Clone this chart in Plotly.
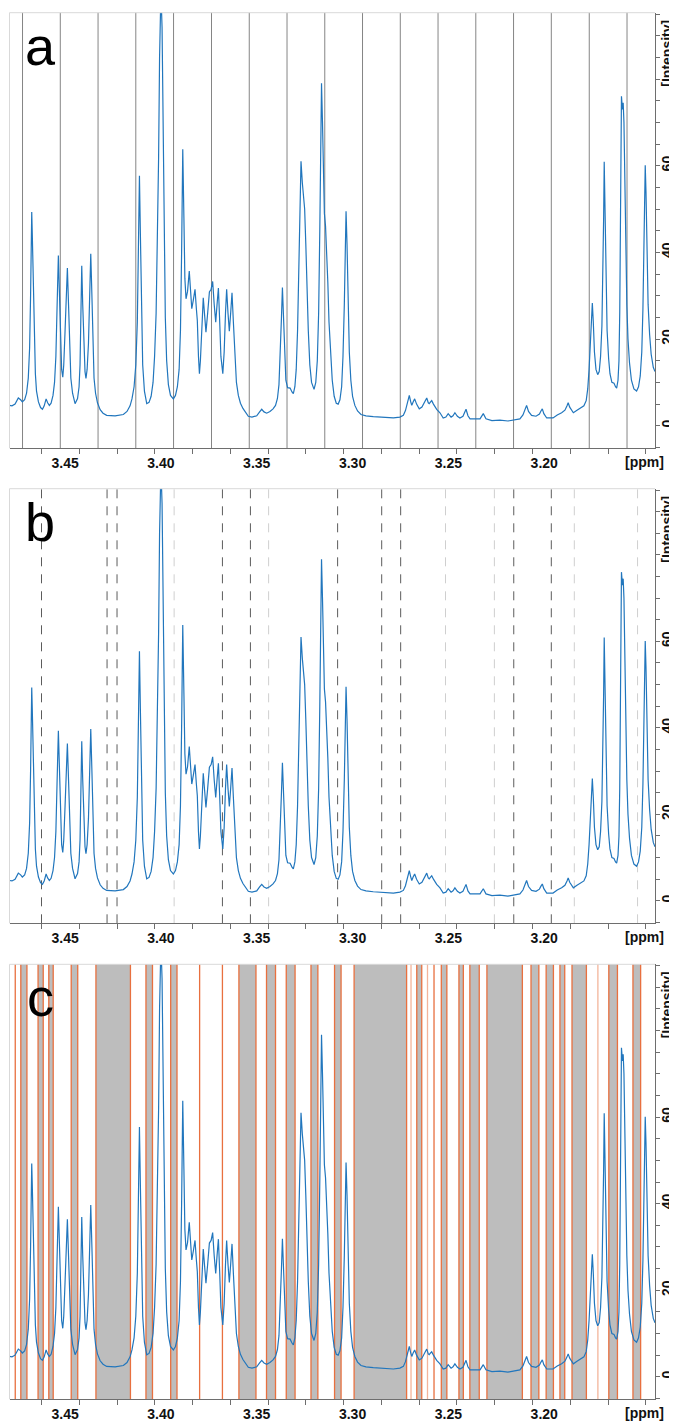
import plotly.graph_objects as go

# ---------------- data ----------------
ppm = [3.4790, 3.4777, 3.4761, 3.4744, 3.4732, 3.4723, 3.4711, 3.4701, 3.4692, 3.4685,
       3.4680, 3.4676, 3.4674, 3.4671, 3.4666, 3.4661, 3.4655, 3.4649, 3.4639, 3.4628,
       3.4618, 3.4609, 3.4599, 3.4591, 3.4582, 3.4573, 3.4563, 3.4555, 3.4548, 3.4542,
       3.4535, 3.4529, 3.4524, 3.4518, 3.4512, 3.4507, 3.4500, 3.4493, 3.4488, 3.4482,
       3.4477, 3.4470, 3.4461, 3.4448, 3.4435, 3.4427, 3.4422, 3.4417, 3.4413, 3.4408,
       3.4402, 3.4396, 3.4391, 3.4385, 3.4378, 3.4372, 3.4366, 3.4360, 3.4354, 3.4349,
       3.4341, 3.4331, 3.4317, 3.4302, 3.4283, 3.4239, 3.4196, 3.4177, 3.4161, 3.4151,
       3.4140, 3.4131, 3.4123, 3.4117, 3.4112, 3.4107, 3.4102, 3.4095, 3.4086, 3.4074,
       3.4062, 3.4051, 3.4041, 3.4033, 3.4025, 3.4019, 3.4012, 3.4007, 3.4000, 3.3994,
       3.3988, 3.3983, 3.3977, 3.3970, 3.3961, 3.3950, 3.3935, 3.3924, 3.3914, 3.3905,
       3.3898, 3.3892, 3.3886, 3.3880, 3.3875, 3.3869, 3.3861, 3.3852, 3.3845, 3.3839,
       3.3831, 3.3822, 3.3815, 3.3810, 3.3804, 3.3799, 3.3794, 3.3786, 3.3779, 3.3771,
       3.3765, 3.3756, 3.3747, 3.3738, 3.3730, 3.3722, 3.3714, 3.3707, 3.3700, 3.3694,
       3.3687, 3.3677, 3.3670, 3.3663, 3.3657, 3.3650, 3.3643, 3.3636, 3.3629, 3.3622,
       3.3615, 3.3606, 3.3596, 3.3585, 3.3572, 3.3558, 3.3544, 3.3525, 3.3500, 3.3485,
       3.3474, 3.3462, 3.3448, 3.3431, 3.3415, 3.3402, 3.3392, 3.3384, 3.3377, 3.3371,
       3.3366, 3.3361, 3.3355, 3.3348, 3.3339, 3.3326, 3.3316, 3.3309, 3.3301, 3.3294,
       3.3287, 3.3280, 3.3274, 3.3269, 3.3262, 3.3256, 3.3250, 3.3244, 3.3238, 3.3231,
       3.3223, 3.3214, 3.3201, 3.3192, 3.3184, 3.3177, 3.3171, 3.3166, 3.3162, 3.3157,
       3.3152, 3.3147, 3.3141, 3.3135, 3.3129, 3.3123, 3.3115, 3.3106, 3.3096, 3.3085,
       3.3075, 3.3066, 3.3057, 3.3050, 3.3043, 3.3038, 3.3034, 3.3029, 3.3024, 3.3017,
       3.3009, 3.3000, 3.2988, 3.2974, 3.2956, 3.2930, 3.2892, 3.2840, 3.2787, 3.2753,
       3.2735, 3.2724, 3.2713, 3.2704, 3.2697, 3.2691, 3.2684, 3.2676, 3.2666, 3.2652,
       3.2638, 3.2623, 3.2613, 3.2605, 3.2600, 3.2593, 3.2587, 3.2578, 3.2561, 3.2544,
       3.2527, 3.2513, 3.2501, 3.2486, 3.2476, 3.2466, 3.2453, 3.2440, 3.2424, 3.2408,
       3.2398, 3.2387, 3.2356, 3.2335, 3.2318, 3.2304, 3.2273, 3.2231, 3.2189, 3.2153,
       3.2127, 3.2111, 3.2100, 3.2092, 3.2082, 3.2066, 3.2043, 3.2025, 3.2017, 3.2010,
       3.2002, 3.1987, 3.1954, 3.1932, 3.1909, 3.1892, 3.1881, 3.1875, 3.1867, 3.1848,
       3.1829, 3.1814, 3.1793, 3.1781, 3.1773, 3.1766, 3.1759, 3.1754, 3.1749, 3.1744,
       3.1738, 3.1730, 3.1721, 3.1713, 3.1706, 3.1699, 3.1694, 3.1690, 3.1687, 3.1683,
       3.1678, 3.1672, 3.1664, 3.1657, 3.1647, 3.1636, 3.1628, 3.1622, 3.1615, 3.1610,
       3.1606, 3.1603, 3.1600, 3.1597, 3.1592, 3.1588, 3.1584, 3.1580, 3.1575, 3.1569,
       3.1563, 3.1555, 3.1545, 3.1532, 3.1518, 3.1508, 3.1499, 3.1491, 3.1485, 3.1480,
       3.1476, 3.1473, 3.1469, 3.1464, 3.1458, 3.1450, 3.1442, 3.1431, 3.1422]

intensity = [4.7, 4.6, 5.0, 6.4, 6.0, 5.5, 6.0, 7.5, 11, 18,
             30, 42, 49.3, 44, 32, 20, 12, 8, 5.5, 4.2,
             3.8, 4.6, 6.2, 5.3, 4.7, 5.2, 7, 10, 16, 27,
             39.3, 30, 20, 13, 11.2, 14, 22, 32, 36.4, 28,
             18, 11, 7.5, 5.1, 6.3, 9, 14, 25, 36.9, 28,
             18, 12.5, 10.9, 13, 19, 30, 39.7, 30, 18, 11,
             7.5, 5.3, 3.7, 2.9, 2.4, 2.3, 2.6, 3.3, 4.6, 6.2,
             9, 14, 24, 40, 57.7, 44, 26, 14, 8, 5.1,
             5.4, 6.8, 10, 16, 26, 40, 62, 85, 100, 92,
             66, 42, 25, 15, 9.5, 7, 6.2, 7, 9, 13,
             22, 40, 63.8, 48, 34, 29.3, 31, 35.7, 30, 27,
             29, 31.5, 27, 24.3, 16, 12, 15, 23, 29.5, 25,
             21.6, 26, 30.9, 31.5, 33.3, 28, 23.9, 28, 31.8, 25,
             16, 12, 17, 26, 31.5, 26, 21.8, 26, 30.7, 24,
             16, 10, 7, 5.2, 4.0, 3.0, 2.2, 2.0, 2.3, 3.2,
             3.8, 3.2, 2.9, 3.3, 3.9, 4.7, 6.3, 9.5, 16, 25,
             31.9, 26, 16, 10.5, 8.8, 8.7, 7.8, 7.4, 9, 13,
             22, 38, 55, 61, 56, 53, 50, 42, 32, 22,
             14, 10, 8.4, 10, 15, 26, 45, 65, 79, 70,
             56, 49, 46, 41, 33, 24, 16, 10.5, 6.8, 5.2,
             5.0, 6, 9, 16, 28, 42, 49.5, 42, 28, 17,
             10.5, 6.8, 4.7, 3.4, 2.6, 2.3, 2.1, 2.0, 1.8, 2.0,
             2.4, 3.5, 5.5, 7.0, 5.6, 4.7, 5.5, 6.2, 5.0, 3.9,
             4.3, 5.6, 6.4, 5.3, 5.1, 5.5, 5.8, 5.0, 3.8, 3.0,
             1.8, 2.0, 2.8, 2.0, 2.3, 3.0, 2.2, 1.8, 2.2, 3.8,
             2.3, 1.6, 1.5, 1.6, 2.8, 1.6, 1.2, 1.3, 1.1, 1.3,
             1.6, 2.5, 3.8, 4.7, 3.3, 2.4, 2.2, 2.7, 3.4, 3.9,
             2.8, 1.8, 1.8, 2.5, 3.0, 3.6, 4.6, 5.3, 4.3, 3.0,
             3.6, 4.1, 4.6, 5.8, 8.5, 13, 20, 26, 28.3, 24,
             17, 13, 11.8, 12.5, 16, 23, 34, 48, 60.9, 50,
             33, 22, 15.5, 12, 10, 9.8, 9, 8.7, 10.5, 15,
             26, 45, 66, 76, 73, 74.5, 70, 55, 40, 28,
             20, 14.5, 10.5, 8.5, 8.0, 9, 11.5, 17, 27, 42,
             55, 60.1, 54, 40, 28, 21, 16.5, 13.5, 12.5]

# panel a: equidistant bin borders (ppm)
bins_a = [3.4722, 3.4525, 3.4328, 3.4131, 3.3934, 3.3736, 3.3539, 3.3342, 3.3145,
          3.2948, 3.2751, 3.2554, 3.2357, 3.2160, 3.1963, 3.1765, 3.1568]

# panel b: dashed borders (dark / light)
bins_b_dark = [3.4623, 3.4281, 3.4229, 3.3679, 3.3533, 3.3078, 3.2848, 3.2749, 3.2159, 3.1963]
bins_b_light = [3.3931, 3.3438, 3.2515, 3.2260, 3.1843, 3.1513]

# panel c: grey regions (start, end) and single orange borders
regions_c = [(3.4731, 3.4699), (3.4641, 3.4614), (3.4585, 3.4562), (3.4468, 3.4434),
             (3.4339, 3.4159), (3.4078, 3.4044), (3.3949, 3.3916), (3.3593, 3.3504),
             (3.3449, 3.3402), (3.3346, 3.3300), (3.3217, 3.3181), (3.3094, 3.3060),
             (3.2992, 3.2718), (3.2665, 3.2639), (3.2537, 3.2508), (3.2445, 3.2422),
             (3.2388, 3.2339), (3.2299, 3.2114), (3.2069, 3.2028), (3.1990, 3.1952),
             (3.1918, 3.1893), (3.1855, 3.1780), (3.1663, 3.1618), (3.1537, 3.1497)]
single_c = [3.4760, 3.3798, 3.3679, 3.2575]
single_c_light = [3.2695, 3.2609, 3.1720]

x_ticks = [3.45, 3.40, 3.35, 3.30, 3.25, 3.20]
x_ticktext = ["3.45", "3.40", "3.35", "3.30", "3.25", "3.20"]
x_minor = [3.4623, 3.4426, 3.4229, 3.4032, 3.3835, 3.3638, 3.3441, 3.3244, 3.3047,
           3.2850, 3.2653, 3.2456, 3.2258, 3.2061, 3.1864, 3.1667, 3.1470]
y_ticks = [0, 20, 40, 60]
panel_letters = ["a", "b", "c"]

# ---------------- styling ----------------
# the page body adds an 8px margin, so the figure is laid out 8px smaller
OFF = 8
W, H = 677 - OFF, 1422 - OFF
BLUE = "#2176bd"
XR = [3.4790, 3.1422]
YR = [-5.2, 95.3]


def px(xp):
    return (xp - OFF) / W


def py(yp):
    return 1 - (yp - OFF) / H


x_dom = [px(9.5), px(655)]
tops = [12.7, 488.7, 964.3]
bots = [448.3, 923.3, 1399.3]
FONT = "Liberation Sans, Arial, sans-serif"
AXC = "#6e6e6e"

fig = go.Figure()
layout = dict(width=W, height=H, margin=dict(l=0, r=0, t=0, b=0),
              paper_bgcolor="white", plot_bgcolor="white", showlegend=False)
shapes = []
annotations = []

for i in range(3):
    sfx = "" if i == 0 else str(i + 1)
    xa, ya = "x" + sfx, "y" + sfx
    fig.add_trace(go.Scatter(x=ppm, y=intensity, mode="lines",
                             line=dict(color=BLUE, width=1.2),
                             xaxis=xa, yaxis=ya, hoverinfo="skip"))
    ydom = [py(bots[i]), py(tops[i])]
    layout["xaxis" + sfx] = dict(
        domain=x_dom, range=XR, anchor=ya, showgrid=False, zeroline=False,
        showline=True, linecolor=AXC, linewidth=1,
        tickmode="array", tickvals=x_ticks, ticktext=x_ticktext,
        ticks="", ticklabelstandoff=2,
        tickfont=dict(family=FONT, size=14, color="#111", weight="bold"),
        minor=dict(ticks="outside", tickmode="array", tickvals=x_minor,
                   ticklen=5, tickcolor=AXC, tickwidth=1),
        automargin=False)
    layout["yaxis" + sfx] = dict(
        domain=ydom, range=YR, anchor=xa, side="right", showgrid=False,
        zeroline=False, showline=True, linecolor=AXC, linewidth=1,
        tickmode="array", tickvals=y_ticks, ticks="outside", ticklen=4,
        tickcolor=AXC, tickangle=-90, ticklabelstandoff=-5,
        tickfont=dict(family=FONT, size=14, color="#111", weight="bold"),
        minor=dict(ticks="outside", dtick=5, tick0=0, ticklen=4,
                   tickcolor=AXC, tickwidth=1),
        automargin=False)
    # light frame top and left
    shapes.append(dict(type="line", xref=xa + " domain", yref=ya + " domain",
                       x0=0, x1=1, y0=1, y1=1, line=dict(color="#d9d9d9", width=1)))
    shapes.append(dict(type="line", xref=xa + " domain", yref=ya + " domain",
                       x0=0, x1=0, y0=0, y1=1, line=dict(color="#d9d9d9", width=1)))
    annotations.append(dict(text="[ppm]", xref="paper", yref="paper",
                            x=px(644), y=py(bots[i] + 13.5), showarrow=False,
                            font=dict(family=FONT, size=14, color="#111", weight="bold"),
                            xanchor="center", yanchor="middle"))
    annotations.append(dict(text="[Intensity]", xref="paper", yref="paper",
                            x=px(667), y=py(tops[i] + 41), showarrow=False,
                            textangle=-90, borderpad=0,
                            font=dict(family=FONT, size=14, color="#111", weight="bold"),
                            xanchor="center", yanchor="middle"))
    annotations.append(dict(text=panel_letters[i], xref="paper", yref="paper",
                            x=px(40), y=py(tops[i] + 33), showarrow=False,
                            font=dict(family=FONT, size=54, color="black"),
                            xanchor="center", yanchor="middle"))

# panel a: solid grey lines
for b in bins_a:
    shapes.append(dict(type="line", xref="x", yref="y domain", x0=b, x1=b, y0=0, y1=1,
                       line=dict(color="#858585", width=1), layer="below"))
# panel b: dashed lines
for b in bins_b_dark:
    shapes.append(dict(type="line", xref="x2", yref="y2 domain", x0=b, x1=b, y0=0, y1=1,
                       line=dict(color="#5c5c5c", width=1, dash="9px,8px"), layer="below"))
for b in bins_b_light:
    shapes.append(dict(type="line", xref="x2", yref="y2 domain", x0=b, x1=b, y0=0, y1=1,
                       line=dict(color="#cfcfcf", width=1, dash="9px,8px"), layer="below"))
# panel c: grey regions with orange borders
ORANGE = "#e8703f"
for a0, a1 in regions_c:
    shapes.append(dict(type="rect", xref="x3", yref="y3 domain", x0=a0, x1=a1, y0=0, y1=1,
                       fillcolor="#bdbdbd", line=dict(width=0), layer="below"))
    for b in (a0, a1):
        shapes.append(dict(type="line", xref="x3", yref="y3 domain", x0=b, x1=b, y0=0, y1=1,
                           line=dict(color=ORANGE, width=1.3), layer="below"))
for b in single_c:
    shapes.append(dict(type="line", xref="x3", yref="y3 domain", x0=b, x1=b, y0=0, y1=1,
                       line=dict(color=ORANGE, width=1.3), layer="below"))
for b in single_c_light:
    shapes.append(dict(type="line", xref="x3", yref="y3 domain", x0=b, x1=b, y0=0, y1=1,
                       line=dict(color="#f3b49a", width=1.3), layer="below"))

layout["shapes"] = shapes
layout["annotations"] = annotations
fig.update_layout(**layout)
fig.write_html("out.html")
